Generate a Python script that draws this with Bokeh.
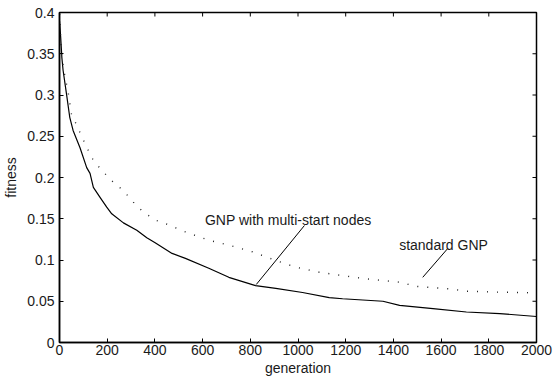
import math
from bokeh.plotting import figure
from bokeh.models import FixedTicker, CustomJSTickFormatter, Range1d, Label
from bokeh.embed import file_html
from bokeh.resources import INLINE

# data
gen_ms = [0, 5, 10, 15, 29, 43, 57, 86, 114, 128, 142, 170, 198, 219, 268, 324, 366, 401, 472, 528,
          626, 710, 822, 907, 1019, 1131, 1187, 1356, 1426, 1566, 1706, 1846, 2000]
fit_ms = [0.39, 0.37, 0.345, 0.33, 0.302, 0.273, 0.257, 0.236, 0.212, 0.205, 0.188, 0.176, 0.164,
          0.156, 0.145, 0.136, 0.127, 0.121, 0.108, 0.102, 0.09, 0.079, 0.069, 0.0655, 0.0606,
          0.0545, 0.053, 0.05, 0.045, 0.041, 0.037, 0.035, 0.0315]
gen_std = [0, 8, 22, 37, 50, 79, 107, 135, 170, 219, 268, 310, 352, 405, 429, 528, 626, 710, 808,
           907, 991, 1089, 1187, 1286, 1426, 1496, 1636, 1706, 1846, 2000]
fit_std = [0.398, 0.35, 0.324, 0.302, 0.277, 0.259, 0.241, 0.224, 0.211, 0.196, 0.184, 0.17, 0.158,
           0.148, 0.146, 0.134, 0.124, 0.118, 0.11, 0.0994, 0.0913, 0.0852, 0.081, 0.0772, 0.0731,
           0.068, 0.065, 0.0622, 0.061, 0.0602]
x_ticks = [0, 200, 400, 600, 800, 1000, 1200, 1400, 1600, 1800, 2000]
y_ticks = [0, 0.05, 0.1, 0.15, 0.2, 0.25, 0.3, 0.35, 0.4]
label_ms = "GNP with multi-start nodes"
label_std = "standard GNP"

FONT = "Liberation Sans"
TXT = "#1a1a1a"

p = figure(width=554, height=379, output_backend="svg", toolbar_location=None,
           x_range=Range1d(0, 2000), y_range=Range1d(0, 0.4),
           min_border_left=58, min_border_right=18, min_border_top=12, min_border_bottom=37)
p.grid.visible = False
p.outline_line_color = "black"
p.outline_line_width = 1.5
p.background_fill_color = "white"
p.border_fill_color = "white"

p.line(gen_ms, fit_ms, line_color="black", line_width=1.2)
p.line(gen_std, fit_std, line_color="#222222", line_width=1.4, line_dash="1 9")

fmt = CustomJSTickFormatter(code="return tick.toFixed(2).replace(/\\.?0+$/, '');")

for ax in p.xaxis:
    ax.ticker = FixedTicker(ticks=x_ticks)
    ax.axis_label = "generation"
    ax.major_label_standoff = 2
    ax.axis_label_standoff = 2
for ax in p.yaxis:
    ax.ticker = FixedTicker(ticks=y_ticks)
    ax.formatter = fmt
    ax.axis_label = "fitness"
    ax.major_label_standoff = 5
    ax.axis_label_standoff = 5

for ax in list(p.xaxis) + list(p.yaxis):
    ax.major_tick_in = 4
    ax.major_tick_out = 0
    ax.minor_tick_in = 0
    ax.minor_tick_out = 0
    ax.axis_line_color = "black"
    ax.axis_line_width = 1.5
    ax.major_tick_line_color = "black"
    ax.major_label_text_font = FONT
    ax.major_label_text_font_size = "14px"
    ax.major_label_text_color = TXT
    ax.axis_label_text_font = FONT
    ax.axis_label_text_font_size = "14px"
    ax.axis_label_text_font_style = "normal"
    ax.axis_label_text_color = TXT

# inward ticks on the top and right edges (half of each dash is clipped by the frame)
p.scatter(x=x_ticks, y=[y_ticks[-1]] * len(x_ticks), marker="dash", angle=math.pi / 2,
          size=8, line_color="black", line_width=1)
p.scatter(x=[x_ticks[-1]] * len(y_ticks), y=y_ticks, marker="dash",
          size=8, line_color="black", line_width=1)

# annotations
p.segment(x0=[1027, 1628], y0=[0.1418, 0.114], x1=[825, 1523], y1=[0.0703, 0.079],
          line_color="black", line_width=1)
p.add_layout(Label(x=959, y=0.148, text=label_ms, text_font=FONT,
                   text_font_size="14px", text_align="center", text_baseline="alphabetic",
                   text_color=TXT))
p.add_layout(Label(x=1610, y=0.1176, text=label_std, text_font=FONT,
                   text_font_size="14px", text_align="center", text_baseline="alphabetic",
                   text_color=TXT))

open("out.html", "w").write(file_html(p, INLINE))
